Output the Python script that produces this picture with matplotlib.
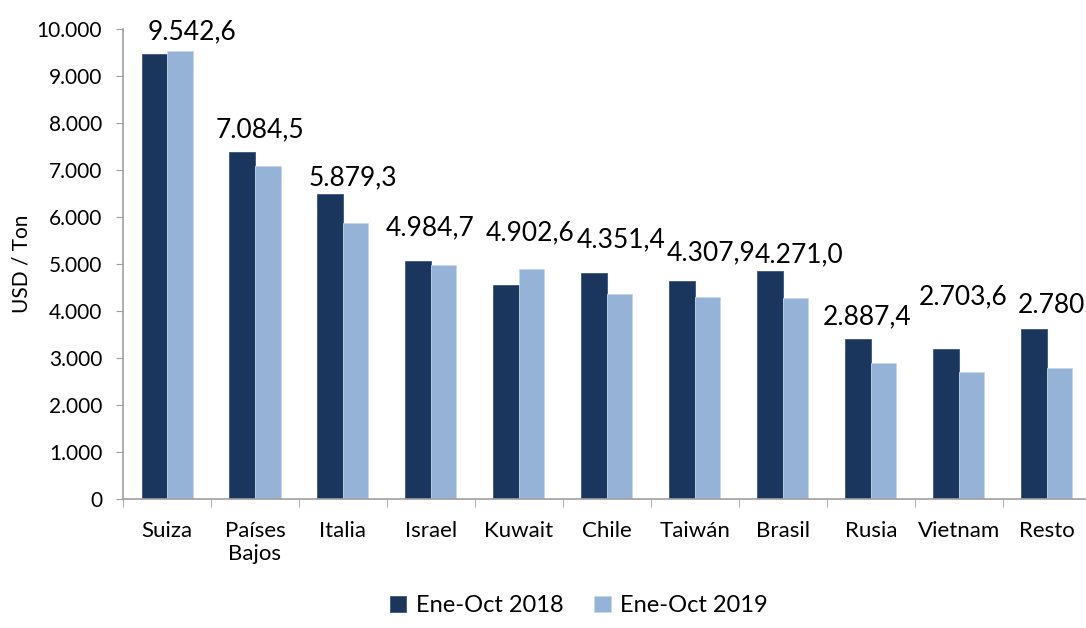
import matplotlib.pyplot as plt
import numpy as np
from matplotlib.ticker import FuncFormatter, FixedLocator

plt.rcParams["font.family"] = ["Lato", "DejaVu Sans"]

paises = ["Suiza", "Países\nBajos", "Italia", "Israel", "Kuwait", "Chile",
          "Taiwán", "Brasil", "Rusia", "Vietnam", "Resto"]
v2018 = [9460, 7380, 6490, 5070, 4560, 4815, 4640, 4850, 3400, 3200, 3610]
v2019 = [9542.6, 7084.5, 5879.3, 4984.7, 4902.6, 4351.4, 4307.9, 4271.0, 2887.4, 2703.6, 2780.0]
series = ["Ene-Oct 2018", "Ene-Oct 2019"]

# label offsets (pixels) hand-placed like in the source sheet
lab_dx = [12, -8, -3, -14, -2, 2, 4, 4, -16, -8, 3]
lab_dy = [19, 36, 45, 37, 36, 55, 44, 43, 46, 75, 64]

c_dark = "#1B365D"
c_light = "#95B3D7"

fig = plt.figure(figsize=(10.86, 6.28), dpi=100)
ax = fig.add_axes([0.1133, 0.2054, 0.891, 0.7484])

x = np.arange(len(paises))
w = 0.29
ax.bar(x - w / 2, v2018, w, color=c_dark, label=series[0], edgecolor="#3a5580", linewidth=0.6)
b2 = ax.bar(x + w / 2, v2019, w, color=c_light, label=series[1], edgecolor="#c5d6ea", linewidth=0.6)

def fmt(v):
    s = f"{v:,.1f}"
    return s.replace(",", "X").replace(".", ",").replace("X", ".")

for i, r in enumerate(b2):
    ax.annotate(fmt(v2019[i]), (r.get_x() + r.get_width() / 2, r.get_height()),
                xytext=(lab_dx[i], lab_dy[i]), textcoords="offset pixels",
                ha="center", va="center", fontsize=19, annotation_clip=False, clip_on=False)

ax.set_xlim(-0.5, len(paises) - 0.5)
ax.set_ylim(0, 10000)
ax.set_yticks(np.arange(0, 10001, 1000))
ax.yaxis.set_major_formatter(FuncFormatter(lambda v, p: f"{int(v):,}".replace(",", ".")))
ax.set_ylabel("USD / Ton", fontsize=15, labelpad=4)

ax.set_xticks(x)
ax.set_xticklabels(paises, fontsize=16, va="top", linespacing=1.15)
ax.xaxis.set_minor_locator(FixedLocator(np.arange(-0.5, len(paises), 1)))
ax.tick_params(axis="x", which="major", length=0, pad=16)
ax.tick_params(axis="x", which="minor", length=6, color="#A0A0A0", direction="out")
ax.tick_params(axis="y", labelsize=15, length=5, color="#A0A0A0", pad=10)

for s in ["top", "right"]:
    ax.spines[s].set_visible(False)
for s in ["left", "bottom"]:
    ax.spines[s].set_color("#A0A0A0")
    ax.spines[s].set_linewidth(1.2)

fig.legend(loc="lower center", bbox_to_anchor=(0.533, -0.015), ncol=2, frameon=False,
           fontsize=17, handlelength=0.7, handleheight=0.7, columnspacing=1.3, handletextpad=0.4)

fig.savefig("out.png", dpi=100)
